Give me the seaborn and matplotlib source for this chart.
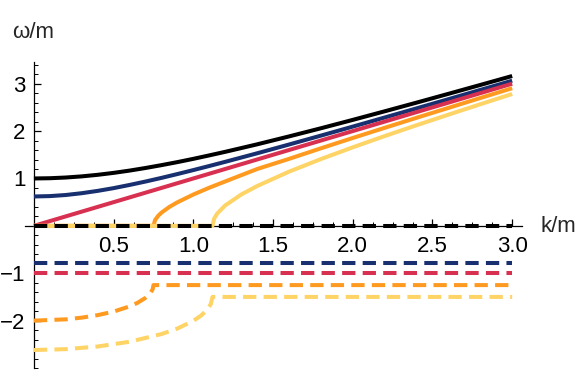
import matplotlib
matplotlib.use("Agg")
import matplotlib.pyplot as plt
from matplotlib.ticker import MultipleLocator, FixedLocator
import seaborn as sns
import pandas as pd

# ---------------- data ----------------
k_grid = [0.0, 0.1, 0.2, 0.3, 0.4, 0.5, 0.6, 0.7, 0.8, 0.9, 1.0, 1.1, 1.2, 1.4, 1.6,
          1.8, 2.0, 2.2, 2.4, 2.6, 2.8, 3.0]
black_solid = [1.000, 1.005, 1.020, 1.044, 1.077, 1.118, 1.166, 1.221, 1.281, 1.345,
               1.414, 1.487, 1.562, 1.720, 1.887, 2.059, 2.236, 2.417, 2.600, 2.786,
               2.973, 3.162]
blue_solid = [0.620, 0.628, 0.651, 0.689, 0.738, 0.796, 0.863, 0.935, 1.012, 1.093,
              1.177, 1.263, 1.351, 1.531, 1.716, 1.904, 2.094, 2.286, 2.479, 2.673,
              2.868, 3.063]
red_k = [0.0, 3.0]
red_solid = [0.0, 3.0]

orange_k = [0.0, 0.75, 0.76, 0.78, 0.80, 0.85, 0.90, 1.0, 1.1, 1.2, 1.4, 1.6, 1.8,
            2.0, 2.2, 2.4, 2.6, 2.8, 3.0]
orange_solid = [0.0, 0.0, 0.123, 0.214, 0.278, 0.400, 0.497, 0.661, 0.805, 0.937,
                1.199, 1.413, 1.636, 1.854, 2.068, 2.280, 2.489, 2.698, 2.905]

yellow_k = [0.0, 1.12, 1.13, 1.15, 1.2, 1.3, 1.4, 1.6, 1.8, 2.0, 2.2, 2.4, 2.6, 2.8, 3.0]
yellow_solid = [0.0, 0.0, 0.150, 0.261, 0.431, 0.660, 0.840, 1.143, 1.409, 1.657,
                1.894, 2.123, 2.346, 2.566, 2.783]

flat_k = [0.0, 3.0]
black_dashed = [0.0, 0.0]
blue_dashed = [-0.785, -0.785]
red_dashed = [-1.0, -1.0]

orange_dk = [0.0, 0.2, 0.3, 0.4, 0.5, 0.6, 0.65, 0.7, 0.73, 0.745, 0.75, 3.0]
orange_dashed = [-2.0, -1.973, -1.937, -1.884, -1.809, -1.70, -1.624, -1.519, -1.422,
                 -1.337, -1.25, -1.25]

yellow_dk = [0.0, 0.2, 0.4, 0.6, 0.8, 0.9, 1.0, 1.05, 1.09, 1.11, 1.12, 3.0]
yellow_dashed = [-2.62, -2.602, -2.546, -2.446, -2.284, -2.167, -2.004, -1.890, -1.757,
                 -1.649, -1.50, -1.50]

x_ticks = [0.5, 1.0, 1.5, 2.0, 2.5, 3.0]
x_tick_labels = ["0.5", "1.0", "1.5", "2.0", "2.5", "3.0"]
y_ticks = [-2, -1, 1, 2, 3]
y_tick_labels = ["\u22122", "\u22121", "1", "2", "3"]

# ---------------- styling ----------------
sns.set_theme(style="white")
plt.rcParams["font.family"] = ["Liberation Sans", "DejaVu Sans"]

C_BLACK = "#000000"
C_BLUE = "#18306f"
C_RED = "#d83050"
C_ORANGE = "#ff9a20"
C_YELLOW = "#ffd466"
LW = 2.9
DASH = (0, (3.3, 1.8))
FS = 16

fig = plt.figure(figsize=(5.81, 3.88), dpi=100)
ax = fig.add_axes([0.043, 0.0515, 0.855, 0.789])

solids = [
    (k_grid, black_solid, C_BLACK),
    (k_grid, blue_solid, C_BLUE),
    (red_k, red_solid, C_RED),
    (orange_k, orange_solid, C_ORANGE),
    (yellow_k, yellow_solid, C_YELLOW),
]
for kx, wy, c in solids:
    df = pd.DataFrame({"k": kx, "w": wy})
    sns.lineplot(data=df, x="k", y="w", color=c, lw=LW, sort=False, estimator=None,
                 ax=ax, solid_capstyle="butt", solid_joinstyle="round")

dashed = [
    (flat_k, black_dashed, C_BLACK),
    (flat_k, blue_dashed, C_BLUE),
    (flat_k, red_dashed, C_RED),
    (orange_dk, orange_dashed, C_ORANGE),
    (yellow_dk, yellow_dashed, C_YELLOW),
]
for kx, wy, c in dashed:
    df = pd.DataFrame({"k": kx, "w": wy})
    sns.lineplot(data=df, x="k", y="w", color=c, lw=LW, sort=False, estimator=None,
                 ax=ax, linestyle=DASH, dash_capstyle="butt")

ax.set_xlim(-0.056, 3.06)
ax.set_ylim(-3.0, 3.46)
ax.set_xlabel("")
ax.set_ylabel("")

for s in ["top", "right"]:
    ax.spines[s].set_visible(False)
ax.spines["left"].set_position(("data", 0))
ax.spines["bottom"].set_position(("data", 0))
for s in ["left", "bottom"]:
    ax.spines[s].set_color("black")
    ax.spines[s].set_linewidth(0.9)
    ax.spines[s].set_zorder(1)

ax.xaxis.set_major_locator(FixedLocator(x_ticks))
ax.set_xticklabels(x_tick_labels)
ax.xaxis.set_minor_locator(MultipleLocator(0.125))
ax.yaxis.set_major_locator(FixedLocator(y_ticks))
ax.set_yticklabels(y_tick_labels)
ax.yaxis.set_minor_locator(MultipleLocator(0.2))

ax.tick_params(axis="both", which="both", direction="in", color="black",
               bottom=True, left=True, labelsize=FS, labelcolor="black")
ax.tick_params(axis="both", which="major", length=5, width=0.9)
ax.tick_params(axis="both", which="minor", length=3, width=0.7)
ax.tick_params(axis="x", which="major", pad=7)
ax.tick_params(axis="y", which="major", pad=6)

fig.text(12 / 581, 1 - 33 / 388, "\u03c9/m", fontsize=FS, ha="left", va="center")
fig.text(541 / 581, 1 - 227 / 388, "k/m", fontsize=FS, ha="left", va="center")

fig.savefig("out.png", dpi=100)
